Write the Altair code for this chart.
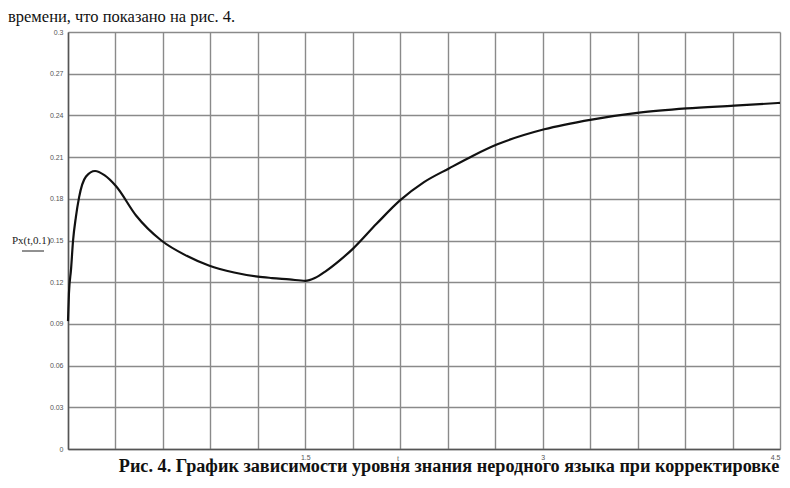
import altair as alt
import pandas as pd

# curve values
t_vals = [0.0, 0.006, 0.019, 0.032, 0.05, 0.07, 0.114, 0.171, 0.23, 0.304, 0.43, 0.59,
          0.75, 0.89, 1.05, 1.2, 1.29, 1.4, 1.5, 1.56, 1.63, 1.71, 1.80, 1.95, 2.1,
          2.25, 2.41, 2.56, 2.71, 3.01, 3.31, 3.61, 3.91, 4.21, 4.5]
px_vals = [0.092, 0.112, 0.129, 0.150, 0.167, 0.181, 0.196, 0.200, 0.197, 0.189, 0.168, 0.150,
           0.139, 0.132, 0.127, 0.124, 0.123, 0.122, 0.121, 0.123, 0.128, 0.135, 0.144, 0.162, 0.179,
           0.192, 0.202, 0.211, 0.219, 0.230, 0.237, 0.242, 0.245, 0.247, 0.249]

x_ticks = [round(i * 0.3, 2) for i in range(16)]
y_ticks = [round(i * 0.03, 2) for i in range(11)]
x_labelled = [1.5, 3, 4.5]

top_text = ["времени, что показано на рис. 4."]
caption = ["Рис. 4. График зависимости уровня знания неродного языка при корректировке"]
y_label = ["Px(t,0.1)"]
x_label = ["t"]

df = pd.DataFrame({"t": t_vals, "px": px_vals})

label_expr = " || ".join(f"abs(datum.value-{v})<0.01" for v in x_labelled)
label_expr = f"({label_expr}) ? format(datum.value, '.1~f') : ''"

curve = alt.Chart(df).mark_line(color="#111", strokeWidth=2.2, interpolate="monotone").encode(
    x=alt.X("t:Q", scale=alt.Scale(domain=[0, 4.5], nice=False, zero=False),
            axis=alt.Axis(values=x_ticks, labelExpr=label_expr, title=None, ticks=False,
                          labelFontSize=7, labelColor="#555", labelPadding=4,
                          labelFont="Liberation Sans", grid=True, gridColor="#8a8a8a",
                          gridWidth=1.4, domainColor="#555", domainWidth=1.5,
                          labelFlush=True)),
    y=alt.Y("px:Q", scale=alt.Scale(domain=[0, 0.3], nice=False, zero=False),
            axis=alt.Axis(values=y_ticks, format=".2~f", title=None, ticks=False,
                          labelFontSize=7, labelColor="#555", labelPadding=5,
                          labelFont="Liberation Sans", grid=True, gridColor="#8a8a8a",
                          gridWidth=1.4, domainColor="#555", domainWidth=1.5)),
)

def text_layer(vals, x, y, **kw):
    return alt.Chart(pd.DataFrame({"txt": vals})).mark_text(**kw).encode(
        text="txt:N", x=alt.value(x), y=alt.value(y))

top = text_layer(top_text, -60, -10, font="Liberation Serif", fontSize=16.5, align="left",
                 baseline="alphabetic", color="#111")
cap = text_layer(caption, 381, 440, font="Liberation Serif", fontSize=18.2, fontWeight="bold",
                 align="center", baseline="alphabetic", color="#111")
ylab = text_layer(y_label, -56, 209, font="Liberation Serif", fontSize=11, align="left",
                  baseline="middle", color="#222")
xlab = text_layer(x_label, 330, 427, font="Liberation Serif", fontSize=8, align="center",
                  baseline="middle", color="#555")
underline = alt.Chart(pd.DataFrame({"a": [0]})).mark_rule(color="#222", strokeWidth=1).encode(
    x=alt.value(-46), x2=alt.value(-24), y=alt.value(219))

chart = alt.layer(curve, top, cap, ylab, xlab, underline).properties(
    width=712, height=417,
    autosize=alt.AutoSizeParams(type="none"),
    padding={"left": 60, "top": 24, "right": 2, "bottom": 28},
    background="white",
).configure_view(strokeWidth=0)

chart.save("out.html", embed_options={"renderer": "svg", "actions": False})
